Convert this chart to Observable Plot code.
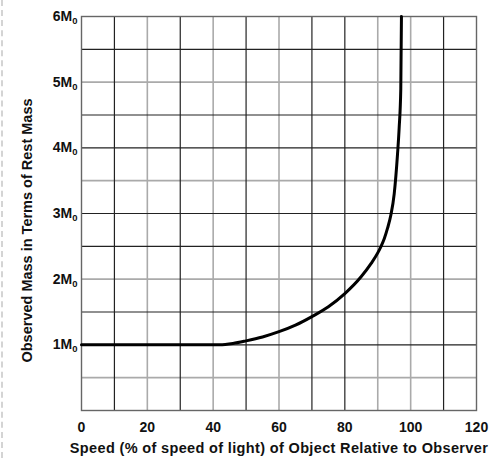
<!DOCTYPE html>
<html><head><meta charset="utf-8">
<script src="https://cdn.jsdelivr.net/npm/d3@7"></script>
<script src="https://cdn.jsdelivr.net/npm/@observablehq/plot@0.6"></script>
<style>
html,body{margin:0;padding:0;background:#fff;}
#wrap{position:relative;width:489px;height:458px;overflow:hidden;}
#wrap::before{content:"";position:absolute;left:1px;top:0;bottom:0;border-left:2px dashed #d4d4d4;}
svg text{font-weight:600;}
svg g[aria-label="x-axis label"] text, svg g[aria-label="y-axis label"] text{font-size:14.5px;}
svg g[aria-label="x-axis label"] text{letter-spacing:0.35px;}
</style></head><body><div id="wrap"></div>
<script>
const speed = [0, 10, 20, 30, 40, 42, 46, 50, 55, 60, 65, 70, 75, 80, 85, 88, 90, 91, 92, 93, 94, 95, 96, 96.5, 97, 97.2];
const mass  = [1, 1, 1, 1, 1, 1, 1.02, 1.06, 1.12, 1.2, 1.3, 1.43, 1.58, 1.78, 2.04, 2.24, 2.4, 2.5, 2.62, 2.78, 2.98, 3.3, 3.9, 4.3, 4.9, 6];
const xTicks = [0, 20, 40, 60, 80, 100, 120];
const yTicks = [1, 2, 3, 4, 5, 6];
const darkV = [10, 30, 50, 70, 80, 110];
const grayV = [20, 40, 60, 90, 100];
const darkH = [1, 1.5, 2.5, 3, 4, 4.5, 5.5];
const grayH = [0.5, 2, 3.5, 5];

const data = speed.map((v, i) => ({v, m: mass[i]}));

const chart = Plot.plot({
  width: 489, height: 458,
  marginLeft: 81, marginRight: 13, marginTop: 16, marginBottom: 48,
  style: {fontFamily: "'Liberation Sans', Arial, sans-serif", fontSize: "14px", color: "#111", background: "transparent"},
  x: {domain: [0, 120], ticks: xTicks, tickSize: 0, tickPadding: 12,
      label: "Speed (% of speed of light) of Object Relative to Observer",
      labelAnchor: "center", labelOffset: 42, labelArrow: false},
  y: {domain: [0, 6], ticks: yTicks, tickSize: 0, tickPadding: 4, tickFormat: d => d + "M₀",
      label: "Observed Mass in Terms of Rest Mass",
      labelAnchor: "center", labelOffset: 60, labelArrow: false},
  marks: [
    Plot.ruleX(grayV, {stroke: "#aaa", strokeWidth: 1.6}),
    Plot.ruleY(grayH, {stroke: "#aaa", strokeWidth: 1.6}),
    Plot.ruleX(darkV, {stroke: "#222", strokeWidth: 1.2}),
    Plot.ruleY(darkH, {stroke: "#222", strokeWidth: 1.2}),
    Plot.frame({stroke: "#666", strokeWidth: 1.4}),
    Plot.line(data, {x: "v", y: "m", stroke: "#000", strokeWidth: 3, curve: "monotone-x"})
  ]
});
document.getElementById("wrap").appendChild(chart);
// nudge the y-axis label down to match the reference
const yl = chart.querySelector('g[aria-label="y-axis label"]');
if (yl) {
  const g = document.createElementNS("http://www.w3.org/2000/svg", "g");
  g.setAttribute("transform", "translate(0,17)");
  yl.parentNode.insertBefore(g, yl);
  g.appendChild(yl);
}
// render the subscript 0 as a lowered small digit
chart.querySelectorAll('g[aria-label="y-axis tick label"] text').forEach(t => {
  const s = t.textContent;
  if (s.endsWith("₀")) {
    t.textContent = s.slice(0, -1);
    const ts = document.createElementNS("http://www.w3.org/2000/svg", "tspan");
    ts.setAttribute("font-size", "9.5px");
    ts.setAttribute("dy", "3");
    ts.textContent = "0";
    t.appendChild(ts);
  }
});
</script>
</body></html>
